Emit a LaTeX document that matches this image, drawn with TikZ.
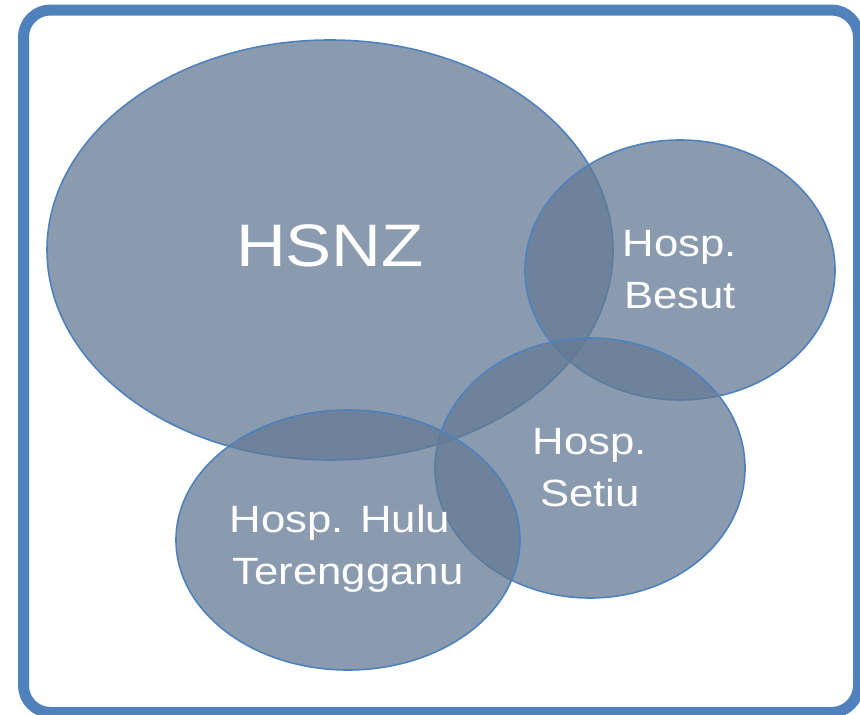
\documentclass[tikz,border=0pt]{standalone}
\usepackage{fontspec}
\newfontfamily\lblfont{Liberation Sans}[FakeStretch=1.15]
\usetikzlibrary{shapes.geometric}

\definecolor{frameblue}{RGB}{79,129,189}
\definecolor{vennfill}{RGB}{100,122,148}

\tikzset{
  hosp/.style={ellipse, draw=frameblue, line width=1.6pt, fill=vennfill,
    fill opacity=0.75, text opacity=1, text=white, inner sep=0pt,
    align=center, font=\lblfont\fontsize{38}{52}\selectfont},
}

\begin{document}
\begin{tikzpicture}[x=1pt, y=-1pt]
\useasboundingbox (0,0) rectangle (860,715);

% frame
\draw[frameblue, line width=11pt, rounded corners=27pt] (23.5,10) rectangle (858.5,712.5);

\node (hsnz) [hosp, minimum width=566pt, minimum height=420pt,
  font=\lblfont\fontsize{60}{70}\selectfont] at (330,250) {HSNZ\rule[-8pt]{0pt}{8pt}};
\node (besut) [hosp, minimum width=310pt, minimum height=260pt] at (680,270) {Hosp.\\Besut};
\node (setiu) [hosp, minimum width=310pt, minimum height=260pt] at (590,468) {Hosp.\\Setiu};
\node (hulu) [hosp, minimum width=344pt, minimum height=260pt] at (348,540)
  {\rule{0pt}{44pt}Hosp. Hulu\hspace*{16pt}\\Terengganu};
\end{tikzpicture}
\end{document}
